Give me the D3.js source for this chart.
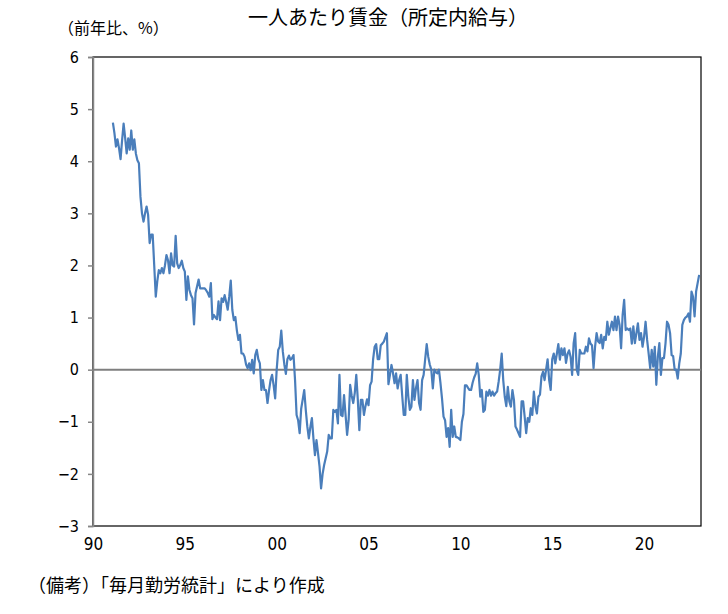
<!DOCTYPE html>
<html><head><meta charset="utf-8">
<script src="https://cdn.jsdelivr.net/npm/d3@7"></script>
<style>body{margin:0;background:#fff}svg text{font-family:"Noto Sans CJK JP","Noto Sans",sans-serif}</style>
</head><body><svg id="c" width="728" height="614"></svg>
<script>
const title = "一人あたり賃金（所定内給与）";
const unitLabel = "（前年比、%）";
const note = "（備考）「毎月勤労統計」により作成";
const startYear = 1991;
const yTicks = [-3,-2,-1,0,1,2,3,4,5,6];
const xTickYears = [1990,1995,2000,2005,2010,2015,2020];
const xTickLabels = ["90","95","00","05","10","15","20"];
// monthly y/y % change, Jan..Dec for each year
const v1991 = [4.74,4.54,4.28,4.42,4.25,4.04,4.40,4.72,4.45,4.15,4.44,4.22];
const v1992 = [4.59,4.22,4.42,4.15,4.02,3.96,3.32,3.00,2.84,3.00,3.13,2.97];
const v1993 = [2.43,2.59,2.59,2.00,1.40,1.70,1.91,1.85,1.95,1.85,2.00,2.20];
const v1994 = [2.10,1.85,2.23,2.00,1.98,2.57,2.04,1.95,2.01,2.09,1.95,1.88];
const v1995 = [1.34,1.79,1.53,1.43,1.37,0.87,1.47,1.60,1.73,1.56,1.56,1.56];
const v1996 = [1.56,1.52,1.47,1.40,1.66,0.97,1.05,1.00,0.97,1.31,0.95,1.37];
const v1997 = [1.30,1.43,1.30,1.15,1.40,1.71,1.15,0.95,1.01,0.75,0.57,0.67];
const v1998 = [0.31,0.31,0.25,0.10,0.03,0.12,-0.01,0.19,-0.07,0.28,0.38,0.20];
const v1999 = [0.12,-0.39,-0.20,-0.39,-0.39,-0.64,-0.40,-0.20,-0.10,-0.30,-0.55,0.00];
const v2000 = [0.38,0.44,0.75,0.35,0.10,-0.08,0.20,0.27,0.19,0.22,0.28,-0.20];
const v2001 = [-0.87,-0.97,-1.22,-0.75,-0.57,-0.39,-0.77,-1.09,-1.32,-1.10,-0.93,-1.32];
const v2002 = [-1.64,-1.35,-1.60,-1.86,-2.28,-2.00,-1.83,-1.70,-1.57,-1.25,-1.32,-1.32];
const v2003 = [-0.77,-0.81,-0.77,-1.03,-0.10,-0.87,-0.89,-0.49,-0.87,-1.25,-0.97,-0.29];
const v2004 = [-0.50,-0.64,-0.45,-0.10,-0.58,-1.16,-0.58,-0.58,-0.87,-0.70,-0.57,-0.68];
const v2005 = [-0.30,-0.23,0.20,0.44,0.49,0.20,0.20,0.47,0.50,0.54,0.62,0.70];
const v2006 = [-0.28,-0.10,0.09,-0.07,-0.26,-0.07,-0.36,-0.20,-0.10,-0.50,-0.87,-0.87];
const v2007 = [-0.10,-0.52,-0.77,-0.71,-0.20,-0.58,-0.35,-0.20,-0.64,-0.77,-0.20,-0.10];
const v2008 = [0.20,0.49,0.25,0.10,0.00,-0.36,0.00,-0.05,-0.07,0.00,-0.26,-0.55];
const v2009 = [-0.90,-0.97,-1.29,-1.12,-1.48,-0.77,-1.29,-1.09,-1.29,-1.30,-1.32,-1.35];
const v2010 = [-1.00,-0.85,-0.30,-0.30,-0.35,-0.39,-0.39,-0.25,-0.15,-0.08,0.12,-0.10];
const v2011 = [-0.52,-0.39,-0.81,-0.77,-0.42,-0.50,-0.39,-0.50,-0.42,-0.50,-0.45,-0.42];
const v2012 = [-0.23,0.00,0.31,-0.20,-0.52,-0.70,-0.33,-0.61,-0.71,-0.39,-0.58,-1.09];
const v2013 = [-1.15,-1.22,-1.29,-0.61,-0.61,-0.90,-1.22,-0.93,-1.00,-0.74,-0.87,-0.42];
const v2014 = [-0.70,-0.84,-0.52,-0.48,-0.13,-0.04,-0.20,0.00,0.20,-0.20,-0.39,0.20];
const v2015 = [0.31,0.12,0.30,0.49,0.19,0.41,0.28,0.41,0.13,0.30,0.37,0.25];
const v2016 = [-0.10,0.51,0.70,0.00,-0.10,0.38,0.31,0.31,0.31,0.44,0.35,0.60];
const v2017 = [0.50,0.47,0.03,0.44,0.70,0.54,0.51,0.67,0.41,0.63,0.57,0.92];
const v2018 = [0.67,0.80,0.92,0.76,1.02,0.76,1.02,0.86,0.41,1.05,1.34,0.76];
const v2019 = [0.79,0.76,0.79,0.50,0.83,0.51,0.70,0.89,0.57,0.70,0.44,0.63];
const v2020 = [0.92,0.57,0.31,0.03,0.38,0.06,0.44,-0.29,0.25,0.51,-0.10,0.22];
const v2021 = [0.22,0.50,0.92,0.86,0.70,0.28,0.26,0.00,0.00,-0.17,0.12,0.31];
const v2022 = [0.86,0.95,1.00,1.02,1.08,0.92,1.50,1.40,1.02,1.50,1.66,1.82];

const years = [v1991,v1992,v1993,v1994,v1995,v1996,v1997,v1998,v1999,v2000,v2001,v2002,v2003,v2004,v2005,v2006,v2007,v2008,v2009,v2010,v2011,v2012,v2013,v2014,v2015,v2016,v2017,v2018,v2019,v2020,v2021,v2022];
const data = [];
years.forEach((arr,i)=>arr.forEach((v,m)=>data.push({t: startYear+i+(m+1)/12, v})));

const svg = d3.select("#c");
const L=93, R=701, T=57, B=526;
const x = d3.scaleLinear().domain([1990, 2023.1]).range([L,R]);
const y = d3.scaleLinear().domain([-3,6]).range([B,T]);

// frame
svg.append("rect").attr("x",L).attr("y",T).attr("width",R-L).attr("height",B-T)
  .attr("fill","none").attr("stroke","#000").attr("stroke-width",1.2);

// y axis
const ya = svg.append("g").attr("transform",`translate(${L},0)`)
  .call(d3.axisLeft(y).tickValues(yTicks).tickSize(5).tickPadding(9).tickFormat(d3.format("d")));
ya.select(".domain").attr("stroke","#868686").attr("stroke-width",1.5);
ya.selectAll(".tick line").attr("stroke","#868686").attr("stroke-width",1.5);
ya.selectAll("text").attr("font-size",16).attr("fill","#000")
  .style("font-family","'Liberation Sans Narrow','DejaVu Sans Condensed',sans-serif");

// x axis labels
const xa = svg.append("g").attr("transform",`translate(0,${B})`)
  .call(d3.axisBottom(x).tickValues(xTickYears).tickSize(0).tickPadding(12)
    .tickFormat((d,i)=>xTickLabels[i]));
xa.select(".domain").remove();
xa.selectAll("text").attr("font-size",17).attr("fill","#000")
  .style("font-family","'Liberation Sans Narrow','DejaVu Sans Condensed',sans-serif");

// zero line
svg.append("line").attr("x1",L).attr("x2",R).attr("y1",y(0)).attr("y2",y(0))
  .attr("stroke","#7f7f7f").attr("stroke-width",2);

// series
svg.append("path").datum(data)
  .attr("d", d3.line().x(d=>x(d.t)).y(d=>y(d.v)))
  .attr("fill","none").attr("stroke","#4a7ebb").attr("stroke-width",2.2).attr("stroke-linejoin","round");

// texts
svg.append("text").attr("x",388).attr("y",25).attr("text-anchor","middle")
  .attr("font-size",20).text(title);
svg.append("text").attr("x",58).attr("y",34).attr("font-size",16).text(unitLabel);
svg.append("text").attr("x",28).attr("y",592).attr("font-size",18).text(note);
</script></body></html>
